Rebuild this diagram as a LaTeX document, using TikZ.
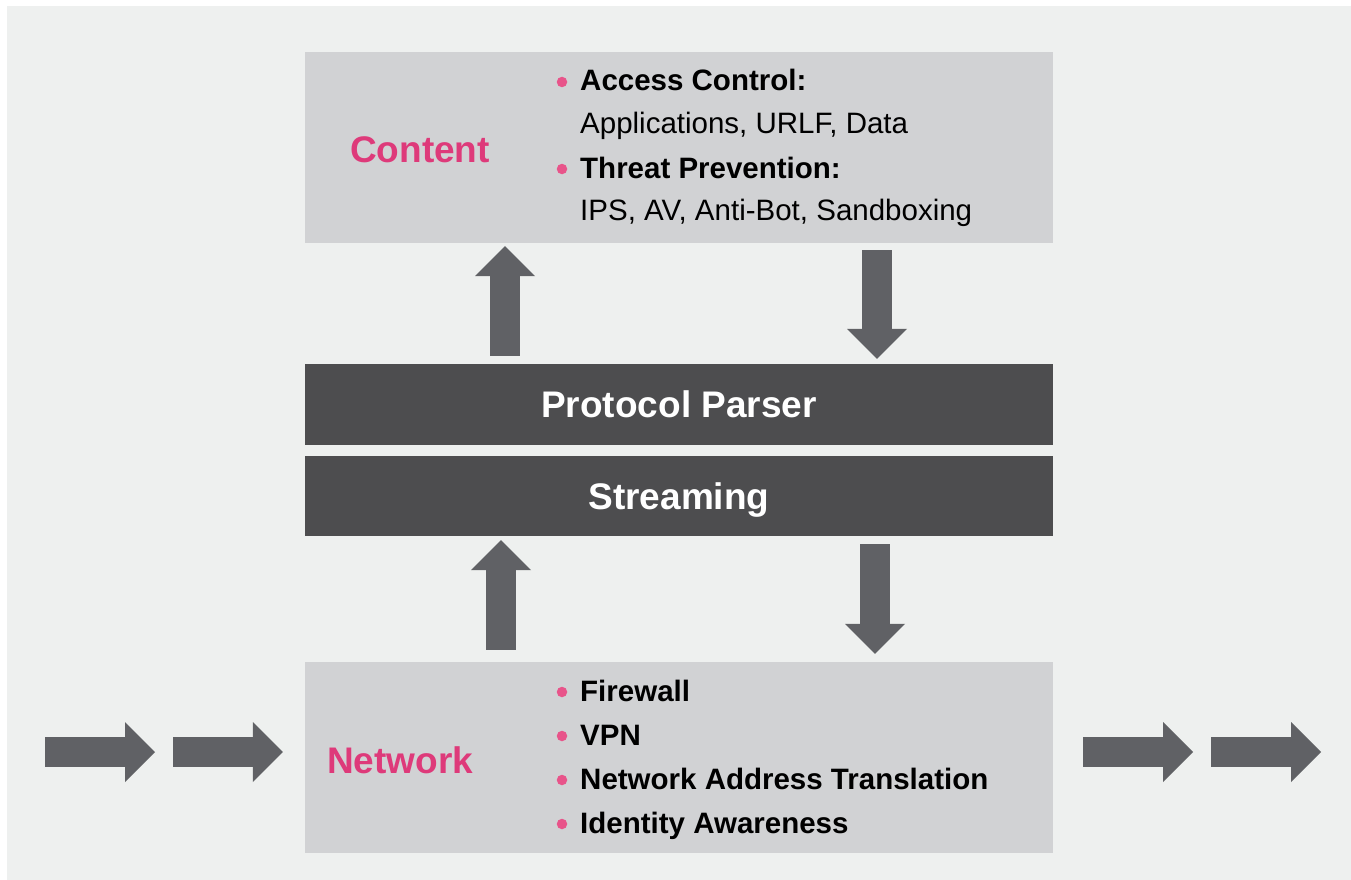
\documentclass[tikz,border=0pt]{standalone}
\usepackage{fontspec}
\setmainfont{Liberation Sans}
\usepackage{xcolor}
\usepackage{tikz}
\usetikzlibrary{arrows.meta, positioning, calc}
\definecolor{panelbg}{RGB}{238,240,239}
\definecolor{boxgray}{RGB}{209,210,212}
\definecolor{bardark}{RGB}{77,77,79}
\definecolor{arrowgray}{RGB}{96,97,101}
\definecolor{labelpink}{RGB}{222,58,122}
\definecolor{dotpink}{RGB}{232,84,138}
\tikzset{
  layerbox/.style={rectangle, fill=boxgray, draw=none, inner sep=0pt,
    minimum width=748pt, minimum height=191pt},
  stagebar/.style={rectangle, fill=bardark, draw=none, inner sep=0pt,
    minimum width=748pt, text=white,
    font=\fontsize{37}{44}\selectfont\bfseries, text height=26.5pt, text depth=0pt},
  layerlabel/.style={anchor=base, inner sep=0pt, text=labelpink,
    font=\fontsize{37}{44}\selectfont\bfseries},
  itemhead/.style={anchor=base west, inner sep=0pt,
    font=\fontsize{29.5}{44}\selectfont\bfseries},
  itembody/.style={anchor=base west, inner sep=0pt,
    font=\fontsize{29.5}{44}\selectfont},
  bdot/.style={circle, fill=dotpink, draw=none, inner sep=0pt, minimum size=10.5pt},
  blockarrow/.style={draw=arrowgray, line width=30pt,
    -{Triangle[width=60pt, length=30pt, line width=0pt, fill=arrowgray]}}
}
\begin{document}
\begin{tikzpicture}[x=1pt, y=-1pt]
  \useasboundingbox (0,0) rectangle (1351,880);
  \fill[white] (0,0) rectangle (1351,880);
  \fill[panelbg] (7,6) rectangle (1360,890);

  % Layers
  \node[layerbox] (content) at (679,147.5) {};
  \node[stagebar, minimum height=81pt] (parser) at (679,404.5) {Protocol Parser};
  \node[stagebar, minimum height=80pt] (streaming) at (679,496) {Streaming};
  \node[layerbox] (network) at (679,757.5) {};

  % Content layer
  \node[layerlabel] (contentlbl) at (420,162) {Content};
  \node[bdot] (cdot1) at (562,82) {};
  \node[itemhead] (access) at (580,91) {Access Control:};
  \node[itembody] (accessitems) at (580,133) {Applications, URLF, Data};
  \node[bdot] (cdot2) at (562,169) {};
  \node[itemhead] (threat) at (580,178) {Threat Prevention:};
  \node[itembody] (threatitems) at (580,220) {IPS, AV, Anti-Bot, Sandboxing};

  % Network layer
  \node[layerlabel] (networklbl) at (400,773) {Network};
  \node[bdot] (ndot1) at (562,692) {};
  \node[itemhead] (firewall) at (580,701) {Firewall};
  \node[bdot] (ndot2) at (562,736) {};
  \node[itemhead] (vpn) at (580,745) {VPN};
  \node[bdot] (ndot3) at (562,780) {};
  \node[itemhead] (nat) at (580,789) {Network Address Translation};
  \node[bdot] (ndot4) at (562,824) {};
  \node[itemhead] (identity) at (580,833) {Identity Awareness};

  % Flow between layers
  \draw[blockarrow] ([xshift=-174pt, yshift=8pt]parser.north) -- ([xshift=-174pt, yshift=-3pt]content.south);
  \draw[blockarrow] ([xshift=198pt, yshift=-7pt]content.south) -- ([xshift=198pt, yshift=5pt]parser.north);
  \draw[blockarrow] ([xshift=-178pt, yshift=12pt]network.north) -- ([xshift=-178pt, yshift=-4pt]streaming.south);
  \draw[blockarrow] ([xshift=196pt, yshift=-8pt]streaming.south) -- ([xshift=196pt, yshift=8pt]network.north);

  % Traffic in and out
  \coordinate (inA) at (45,752);
  \coordinate (inB) at (155,752);
  \coordinate (inC) at (173,752);
  \coordinate (outB) at (1193,752);
  \coordinate (outC) at (1211,752);
  \coordinate (outD) at (1321,752);
  \draw[blockarrow] (inA) -- (inB);
  \draw[blockarrow] (inC) -- ([xshift=-22pt, yshift=5.5pt]network.west);
  \draw[blockarrow] ([xshift=30pt, yshift=5.5pt]network.east) -- (outB);
  \draw[blockarrow] (outC) -- (outD);
\end{tikzpicture}
\end{document}
